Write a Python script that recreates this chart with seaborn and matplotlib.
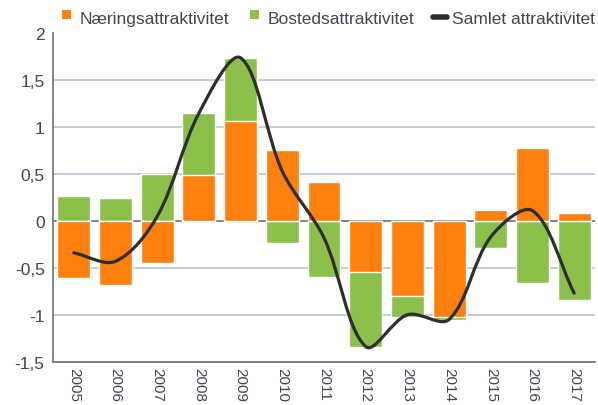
import numpy as np
import pandas as pd
import seaborn as sns
import matplotlib
matplotlib.use("Agg")
import matplotlib.pyplot as plt
from matplotlib.path import Path
from matplotlib.patches import PathPatch, Patch, Rectangle
from matplotlib.lines import Line2D
from matplotlib.legend_handler import HandlerPatch
from matplotlib.ticker import FuncFormatter

years = ["2005", "2006", "2007", "2008", "2009", "2010", "2011",
         "2012", "2013", "2014", "2015", "2016", "2017"]
naering = [-0.61, -0.68, -0.45, 0.49, 1.07, 0.76, 0.42,
           -0.54, -0.80, -1.02, 0.12, 0.78, 0.08]
bosted = [0.27, 0.25, 0.50, 0.66, 0.67, -0.23, -0.60,
          -0.80, -0.22, -0.04, -0.29, -0.66, -0.84]
samlet = [-0.34, -0.43, 0.05, 1.15, 1.74, 0.53, -0.18,
          -1.34, -1.00, -1.05, -0.17, 0.11, -0.77]

ORANGE = "#FF7F0F"
GREEN = "#8BC14B"
LINE = "#2E2E2E"
TEXT = "#3F4752"

sns.set_theme(style="white")
plt.rcParams["font.family"] = ["Liberation Sans", "DejaVu Sans"]

fig = plt.figure(figsize=(5.98, 4.06), dpi=100)
ax_box = [53 / 598, 1 - 362.6 / 406, (595 - 53) / 598, (362.6 - 34.5) / 406]
ax = fig.add_axes(ax_box)

# Stacked (positives and negatives separately): green ends drawn first, orange over
n = np.array(naering)
b = np.array(bosted)
base = np.where(b >= 0, np.maximum(n, 0), np.minimum(n, 0))
green_end = base + b
df = pd.DataFrame({"year": years, "naering": n, "green_end": green_end})

sns.barplot(data=df, x="year", y="green_end", color=GREEN, saturation=1,
            width=0.79, ax=ax, zorder=2)
sns.barplot(data=df, x="year", y="naering", color=ORANGE, saturation=1,
            width=0.79, ax=ax, zorder=3)

ax.set_xlim(-0.5, len(years) - 0.5)
ax.set_ylim(-1.5, 2.0)

# Smoothed total line (Excel-style Bezier through the yearly points)
xs = np.arange(len(years), dtype=float)
ys = np.array(samlet)
P = np.column_stack([xs, ys])
px_per_x = (595 - 53) / len(years)
px_per_y = (362.6 - 34.5) / 3.5
def dist(a, c):
    return np.hypot((a[0] - c[0]) * px_per_x, (a[1] - c[1]) * px_per_y)
verts = [P[0]]
codes = [Path.MOVETO]
N = len(P)
for i in range(N - 1):
    p0 = P[i - 1] if i > 0 else P[i]
    p1 = P[i]
    p2 = P[i + 1]
    p3 = P[i + 2] if i + 2 < N else P[i + 1]
    d01, d12, d23 = dist(p0, p1), dist(p1, p2), dist(p2, p3)
    f1 = d12 / (d01 + d12) if d01 + d12 > 0 else 0.5
    f2 = d12 / (d12 + d23) if d12 + d23 > 0 else 0.5
    if i == 0:
        c1 = p1 + (p2 - p1) / 3.0
    else:
        c1 = p1 + (p2 - p0) * f1 / 3.0
    if i + 2 >= N:
        c2 = p2 - (p2 - p1) / 3.0
    else:
        c2 = p2 - (p3 - p1) * f2 / 3.0
    verts += [c1, c2, p2]
    codes += [Path.CURVE4] * 3
ax.add_patch(PathPatch(Path(verts, codes), facecolor="none", edgecolor=LINE,
                       lw=2.3, zorder=4, capstyle="round", joinstyle="round"))

ax.set_yticks(np.arange(-1.5, 2.01, 0.5))
ax.yaxis.set_major_formatter(FuncFormatter(
    lambda v, p: (f"{v:g}").replace(".", ",")))
ax.grid(axis="y", color="#B4BFCA", lw=1.1, zorder=0)
ax.grid(axis="x", visible=False)
ax.set_axisbelow(True)
ax.axhline(0, color="#6A737D", lw=1.1, zorder=1)

for s in ["top", "right"]:
    ax.spines[s].set_visible(False)
for s in ["left", "bottom"]:
    ax.spines[s].set_color("#6A737D")
    ax.spines[s].set_linewidth(1.2)

ax.set_xlabel("")
ax.set_ylabel("")
ax.tick_params(axis="y", labelsize=12.5, colors=TEXT, length=0, pad=6)
ax.tick_params(axis="x", labelsize=11, colors=TEXT, length=0, pad=4,
               labelrotation=-90)


def square(legend, orig_handle, xdescent, ydescent, width, height, fontsize):
    s = 0.5 * fontsize
    return Rectangle((-xdescent + width - s - 0.2 * fontsize,
                      -ydescent + (height - s) / 2 + 0.1 * fontsize), s, s)


handles = [Patch(facecolor=ORANGE, edgecolor="none", label="Næringsattraktivitet"),
           Patch(facecolor=GREEN, edgecolor="none", label="Bostedsattraktivitet"),
           Line2D([0], [0], color=LINE, lw=4, solid_capstyle="round",
                  label="Samlet attraktivitet")]
leg = fig.legend(handles=handles, loc="center",
                 bbox_to_anchor=(328 / 598, 1 - 19 / 406),
                 ncol=3, frameon=False, fontsize=12.5, handlelength=0.8,
                 handleheight=0.7, handletextpad=0.3, columnspacing=1.1,
                 handler_map={Patch: HandlerPatch(patch_func=square)})
for t in leg.get_texts():
    t.set_color(TEXT)

fig.savefig("out.png", dpi=100)
